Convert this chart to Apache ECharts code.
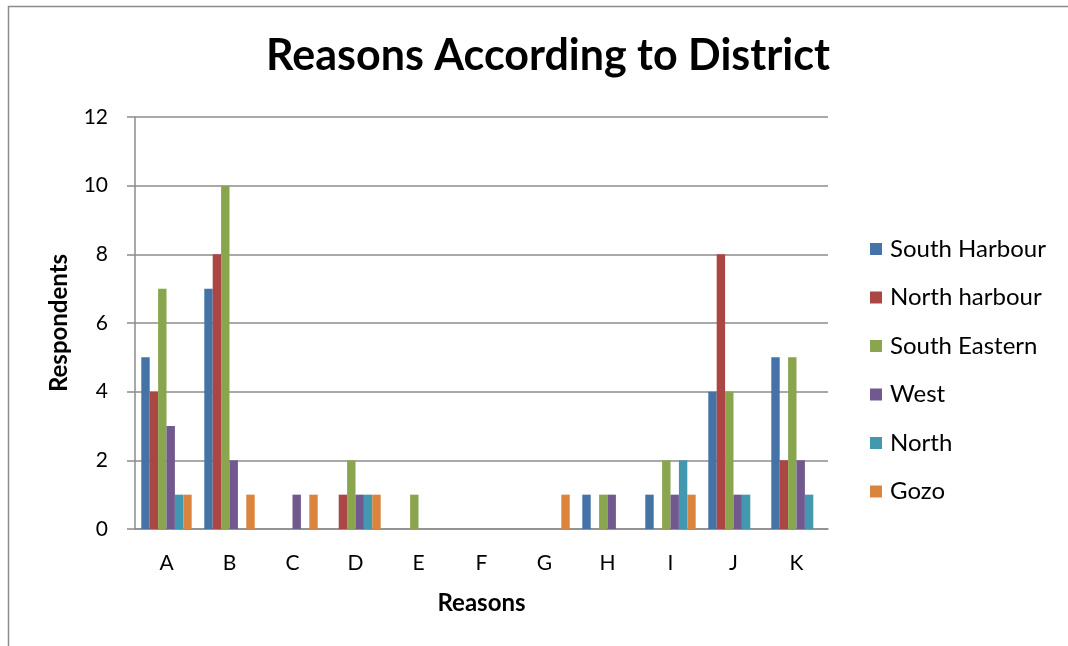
<!DOCTYPE html>
<html>
<head>
<meta charset="utf-8">
<script src="https://cdn.jsdelivr.net/npm/echarts@6/dist/echarts.min.js"></script>
<style>
  html, body { margin: 0; padding: 0; background: #fff; }
  #chart { width: 1068px; height: 646px; }
</style>
</head>
<body>
<div id="chart"></div>
<script>
// Reasons (categories) and respondents per district
const categories = ['A', 'B', 'C', 'D', 'E', 'F', 'G', 'H', 'I', 'J', 'K'];
const southHarbour = [5, 7, 0, 0, 0, 0, 0, 1, 1, 4, 5];
const northHarbour = [4, 8, 0, 1, 0, 0, 0, 0, 0, 8, 2];
const southEastern = [7, 10, 0, 2, 1, 0, 0, 1, 2, 4, 5];
const west = [3, 2, 1, 1, 0, 0, 0, 1, 1, 1, 2];
const north = [1, 0, 0, 1, 0, 0, 0, 0, 2, 1, 1];
const gozo = [1, 1, 1, 1, 0, 0, 1, 0, 1, 0, 0];
const yTicks = { min: 0, max: 12, interval: 2 };

const seriesDefs = [
  { name: 'South Harbour', data: southHarbour, color: '#4572A7' },
  { name: 'North harbour', data: northHarbour, color: '#AA4643' },
  { name: 'South Eastern', data: southEastern, color: '#89A54E' },
  { name: 'West', data: west, color: '#71588F' },
  { name: 'North', data: north, color: '#4198AF' },
  { name: 'Gozo', data: gozo, color: '#DB843D' }
];

const FONT = 'Lato, "Open Sans", sans-serif';
const chart = echarts.init(document.getElementById('chart'));

chart.setOption({
  animation: false,
  backgroundColor: '#fff',
  graphic: [{
    type: 'rect',
    shape: { x: 8.5, y: 6.5, width: 1100, height: 700 },
    style: { fill: 'none', stroke: '#8c8c8c', lineWidth: 1.5 },
    silent: true
  }],
  title: {
    text: 'Reasons According to District',
    left: 543, top: 30, textAlign: 'center',
    textStyle: { fontFamily: FONT, fontWeight: 'bold', fontSize: 43, color: '#000' }
  },
  legend: {
    orient: 'vertical',
    left: 870, top: 237,
    padding: 0,
    itemWidth: 12, itemHeight: 12,
    itemGap: 24.5,
    icon: 'rect',
    textStyle: { fontFamily: FONT, fontSize: 24, color: '#000', padding: [0, 0, 0, 3] }
  },
  grid: { left: 135, right: 240, top: 117, bottom: 117, containLabel: false },
  xAxis: {
    type: 'category',
    data: categories,
    name: 'Reasons',
    nameLocation: 'middle',
    nameGap: 62,
    nameTextStyle: { fontFamily: FONT, fontWeight: 'bold', fontSize: 24, color: '#000' },
    axisLine: { lineStyle: { color: '#8c8c8c', width: 1.5 } },
    axisTick: { show: false },
    axisLabel: { fontFamily: FONT, fontSize: 21, color: '#000', margin: 24 }
  },
  yAxis: {
    type: 'value',
    min: yTicks.min, max: yTicks.max, interval: yTicks.interval,
    name: 'Respondents',
    nameLocation: 'middle',
    nameGap: 64,
    nameRotate: 90,
    nameTextStyle: { fontFamily: FONT, fontWeight: 'bold', fontSize: 24, color: '#000' },
    axisLine: { show: true, lineStyle: { color: '#8c8c8c', width: 1.5 } },
    axisTick: { show: true, inside: false, length: 8, lineStyle: { color: '#8c8c8c', width: 1.5 } },
    axisLabel: { fontFamily: FONT, fontSize: 21, color: '#000', margin: 27 },
    splitLine: { lineStyle: { color: '#8c8c8c', width: 1.5 } }
  },
  series: seriesDefs.map(s => ({
    type: 'bar',
    name: s.name,
    data: s.data,
    itemStyle: { color: s.color },
    barGap: '0%',
    barCategoryGap: '20%'
  }))
});
</script>
</body>
</html>
